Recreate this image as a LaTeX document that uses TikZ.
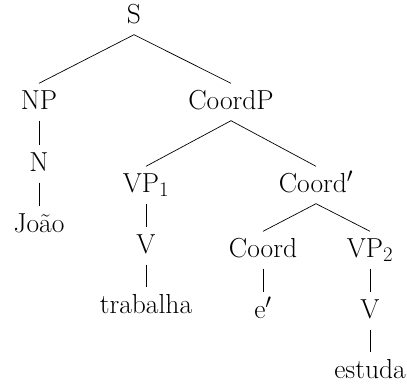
\documentclass[tikz,border=0pt]{standalone}

\begin{document}
\begin{tikzpicture}[x=1pt, y=-1pt, font=\fontsize{27.5}{33}\selectfont,
    cat/.style={anchor=base, inner xsep=0pt, inner ysep=5pt, text height=20.5pt, text depth=6.5pt}]

    % Fix the canvas
    \useasboundingbox (0,0) rectangle (407,386);

    % Define the nodes
    \node[cat] (S) at (134,23) {S};
    \node[cat] (NP) at (39,109) {NP};
    \node[cat] (CoordP) at (231,109) {CoordP};
    \node[cat] (N) at (39,171) {N};
    \node[cat] (Joao) at (39,232) {João};
    \node[cat] (VPone) at (146,192) {VP$_1$};
    \node[cat] (CoordBar) at (316,192) {Coord$'$};
    \node[cat] (Vone) at (146,253) {V};
    \node[cat] (trabalha) at (146,313) {trabalha};
    \node[cat] (Coord) at (263,257) {Coord};
    \node[cat] (VPtwo) at (370,257) {VP$_2$};
    \node[cat] (e) at (263,318) {e$'$};
    \node[cat] (Vtwo) at (370,318) {V};
    \node[cat] (estuda) at (370,378) {estuda};

    % Draw the branches
    \draw[line width=0.7pt] (S.south) -- (NP.north);
    \draw[line width=0.7pt] (S.south) -- (CoordP.north);
    \draw[line width=0.7pt] (NP.south) -- (N.north);
    \draw[line width=0.7pt] (N.south) -- (Joao.north);
    \draw[line width=0.7pt] (CoordP.south) -- (VPone.north);
    \draw[line width=0.7pt] (CoordP.south) -- (CoordBar.north);
    \draw[line width=0.7pt] (VPone.south) -- (Vone.north);
    \draw[line width=0.7pt] (Vone.south) -- (trabalha.north);
    \draw[line width=0.7pt] (CoordBar.south) -- (Coord.north);
    \draw[line width=0.7pt] (CoordBar.south) -- (VPtwo.north);
    \draw[line width=0.7pt] (Coord.south) -- (e.north);
    \draw[line width=0.7pt] (VPtwo.south) -- (Vtwo.north);
    \draw[line width=0.7pt] (Vtwo.south) -- (estuda.north);

\end{tikzpicture}
\end{document}
